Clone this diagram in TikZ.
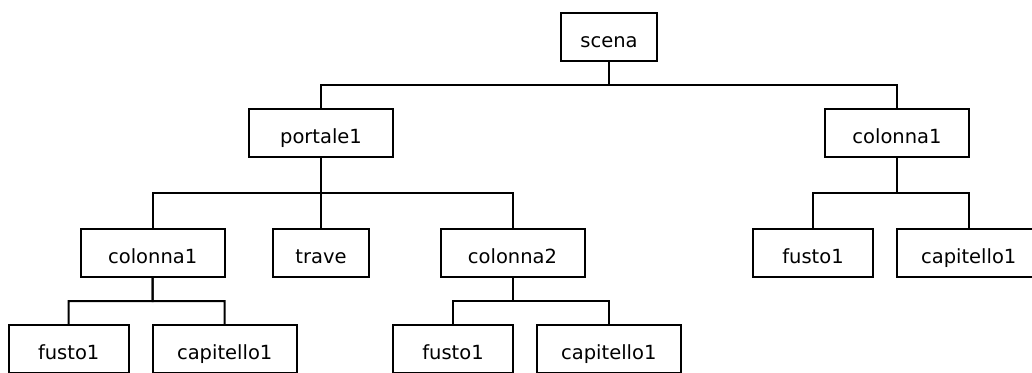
\documentclass[tikz,border=0pt]{standalone}
\usepackage{fontspec}
\setmainfont{DejaVu Sans}
\usetikzlibrary{calc}
\begin{document}
\begin{tikzpicture}[x=1pt,y=-1pt,
  box/.style={draw=black, line width=2pt, fill=white, inner sep=0pt, outer sep=0pt,
    minimum height=48pt, text height=20pt, text depth=0pt,
    font=\fontsize{19.5}{21}\selectfont},
  wA/.style={box, minimum width=96pt},
  wB/.style={box, minimum width=120pt},
  wC/.style={box, minimum width=144pt},
  link/.style={draw=black, line width=2pt}]
\useasboundingbox (0,0) rectangle (1032,372);
\clip (0,0) rectangle (1032,372);
\fill[white] (0,0) rectangle (1032,372);
\node[wA] (scena) at (609,37) {scena};
\node[wC] (portale) at (321,133) {portale1};
\node[wC] (colR) at (897,133) {colonna1};
\node[wC] (colL) at (152.7,253) {colonna1};
\node[wA] (trave) at (321,253) {trave};
\node[wC] (col2) at (512.5,253) {colonna2};
\node[wB] (fusR) at (813,253) {fusto1};
\node[wC] (capR) at (968.7,253) {capitello1};
\node[wB] (fusA) at (68.7,349) {fusto1};
\node[wC] (capA) at (224.7,349) {capitello1};
\node[wB] (fusB) at (453,349) {fusto1};
\node[wC] (capB) at (608.8,349) {capitello1};
\foreach \p/\c in {scena/portale, scena/colR, portale/colL, portale/trave, portale/col2,
  colR/fusR, colR/capR, colL/fusA, colL/capA, col2/fusB, col2/capB}{
  \draw[link, line join=miter] (\p.south) -- ($(\p.south)!.5!(\p.south |- \c.north)$) -| (\c.north);
}
\end{tikzpicture}
\end{document}
